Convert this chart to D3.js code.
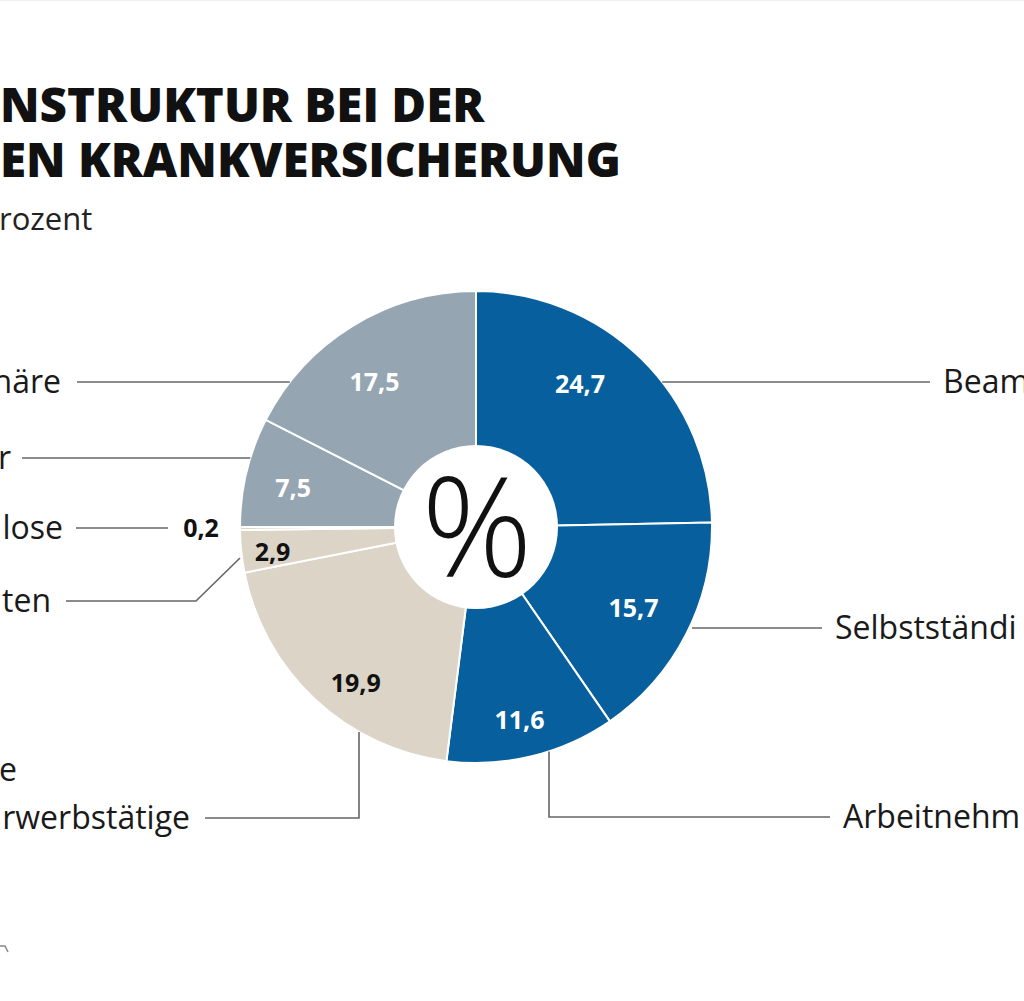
<!DOCTYPE html>
<html><head><meta charset="utf-8">
<script src="https://cdn.jsdelivr.net/npm/d3@7"></script>
<style>
html,body{margin:0;padding:0;background:#fff;overflow:hidden}
svg{display:block}
</style></head>
<body>
<svg id="chart" width="1024" height="1001"></svg>
<script>
// ---- data ----
const categories = ["Beamte","Selbstständige","Arbeitnehmer","Nichterwerbstätige","Studenten","Arbeitslose","Rentner","Pensionäre"];
const shownNames = ["Beam","Selbstständi","Arbeitnehm","rwerbstätige","ten","lose","r","häre"];
const values = [24.7,15.7,11.6,19.9,2.9,0.2,7.5,17.5];
const groups = ["blue","blue","blue","beige","beige","beige","gray","gray"];
const valueLabels = ["24,7","15,7","11,6","19,9","2,9","0,2","7,5","17,5"];
const titleLines = ["NSTRUKTUR BEI DER","EN KRANKVERSICHERUNG"];
const subtitle = "rozent";

// ---- layout ----
const svg = d3.select("#chart");
const W=1024,H=1001, cx=476, cy=527, R=236, r0=82;
const color = d3.scaleOrdinal().domain(["blue","beige","gray"]).range(["#07609d","#dcd4c6","#95a5b1"]);
const font = "'Open Sans', Lato, sans-serif";
// label placement (radius, angle nudge in degrees) per slice
const labelPolar = [[177,-8.5],[177,0],[198,1],[197,-5.4],[205,-1],[0,0],[187,-1.5],[177,-3.5]];

svg.append("line").attr("x1",0).attr("x2",W).attr("y1",0.5).attr("y2",0.5).attr("stroke","#eeeeee");

svg.selectAll("text.title").data(titleLines).join("text")
  .attr("x",0).attr("y",(d,i)=>122+i*55)
  .attr("font-family",font).attr("font-weight",800).attr("font-size",47.5)
  .attr("fill","#111").text(d=>d);
svg.append("text").attr("x",-1).attr("y",230).attr("font-family",font)
  .attr("font-size",31).attr("fill","#222").text(subtitle);

const pie = d3.pie().sort(null).value(d=>d)(values);
const arc = d3.arc().innerRadius(0).outerRadius(R);
const g = svg.append("g").attr("transform",`translate(${cx},${cy})`);
g.selectAll("path").data(pie).join("path")
  .attr("d",arc).attr("fill",(d,i)=>color(groups[i]))
  .attr("stroke","#fff").attr("stroke-width",2);
g.append("circle").attr("r",r0).attr("fill","#fff");
g.append("text").attr("text-anchor","middle").attr("x",1).attr("dy","0.36em")
  .attr("font-family",font).attr("font-weight",300).attr("font-size",138)
  .attr("fill","#111").text("%");

// value labels
g.selectAll("text.val").data(pie).join("text").attr("class","val")
  .each(function(d,i){
    let x,y;
    if(values[i] < 1){ x = 201-cx; y = 528-cy; }
    else {
      const [rr,nudge] = labelPolar[i];
      const a = (d.startAngle+d.endAngle)/2 + nudge*Math.PI/180;
      x = rr*Math.sin(a); y = -rr*Math.cos(a);
    }
    d3.select(this).attr("x",x).attr("y",y);
  })
  .attr("text-anchor","middle").attr("dy","0.36em")
  .attr("font-family",font).attr("font-weight",700).attr("font-size",25)
  .attr("fill",(d,i)=>groups[i]==="beige"?"#111":"#fff")
  .text((d,i)=>valueLabels[i]);

// category labels with leader lines
const edgeX = (y,side)=>cx+side*Math.sqrt(R*R-(y-cy)*(y-cy));
const edgeY = x=>cy+Math.sqrt(R*R-(x-cx)*(x-cx));
const leaders = [
  {i:0, type:"h", side:1, y:382, tx:943, lx:930},
  {i:1, type:"h", side:1, y:628, tx:835, lx:822, start:692},
  {i:2, type:"v", side:1, y:817, tx:843, lx:830, vx:549},
  {i:3, type:"v", side:-1, y:818, tx:190, lx:205, vx:359},
  {i:4, type:"d", side:-1, y:601, tx:51, lx:66, bx:196, ex:240, ey:558},
  {i:5, type:"s", side:-1, y:528, tx:63, lx:76, ex:168},
  {i:6, type:"h", side:-1, y:458, tx:11, lx:22},
  {i:7, type:"h", side:-1, y:382, tx:61, lx:77}
];
const ln = svg.append("g").attr("stroke","#666").attr("stroke-width",1.6).attr("fill","none");
leaders.forEach(L=>{
  let pts;
  if(L.type==="h"){ pts=[[L.lx,L.y],[L.start||edgeX(L.y,L.side),L.y]]; }
  else if(L.type==="v"){ pts=[[L.lx,L.y],[L.vx,L.y],[L.vx,edgeY(L.vx)]]; }
  else if(L.type==="d"){ pts=[[L.lx,L.y],[L.bx,L.y],[L.ex,L.ey]]; }
  else { pts=[[L.lx,L.y],[L.ex,L.y]]; }
  ln.append("path").attr("d",d3.line()(pts));
  svg.append("text").attr("x",L.tx).attr("y",L.y).attr("dy","0.35em")
    .attr("text-anchor",L.side>0?"start":"end")
    .attr("font-family",font).attr("font-size",32).attr("fill","#1a1a1a")
    .text(shownNames[L.i]);
});
svg.append("text").attr("x",-1).attr("y",781).attr("font-family",font)
  .attr("font-size",32).attr("fill","#1a1a1a").text("e");
// cut-off source mark
svg.append("path").attr("d","M0,946 L5,946 L8,952").attr("stroke","#888").attr("stroke-width",1.5).attr("fill","none");
</script>
</body></html>
